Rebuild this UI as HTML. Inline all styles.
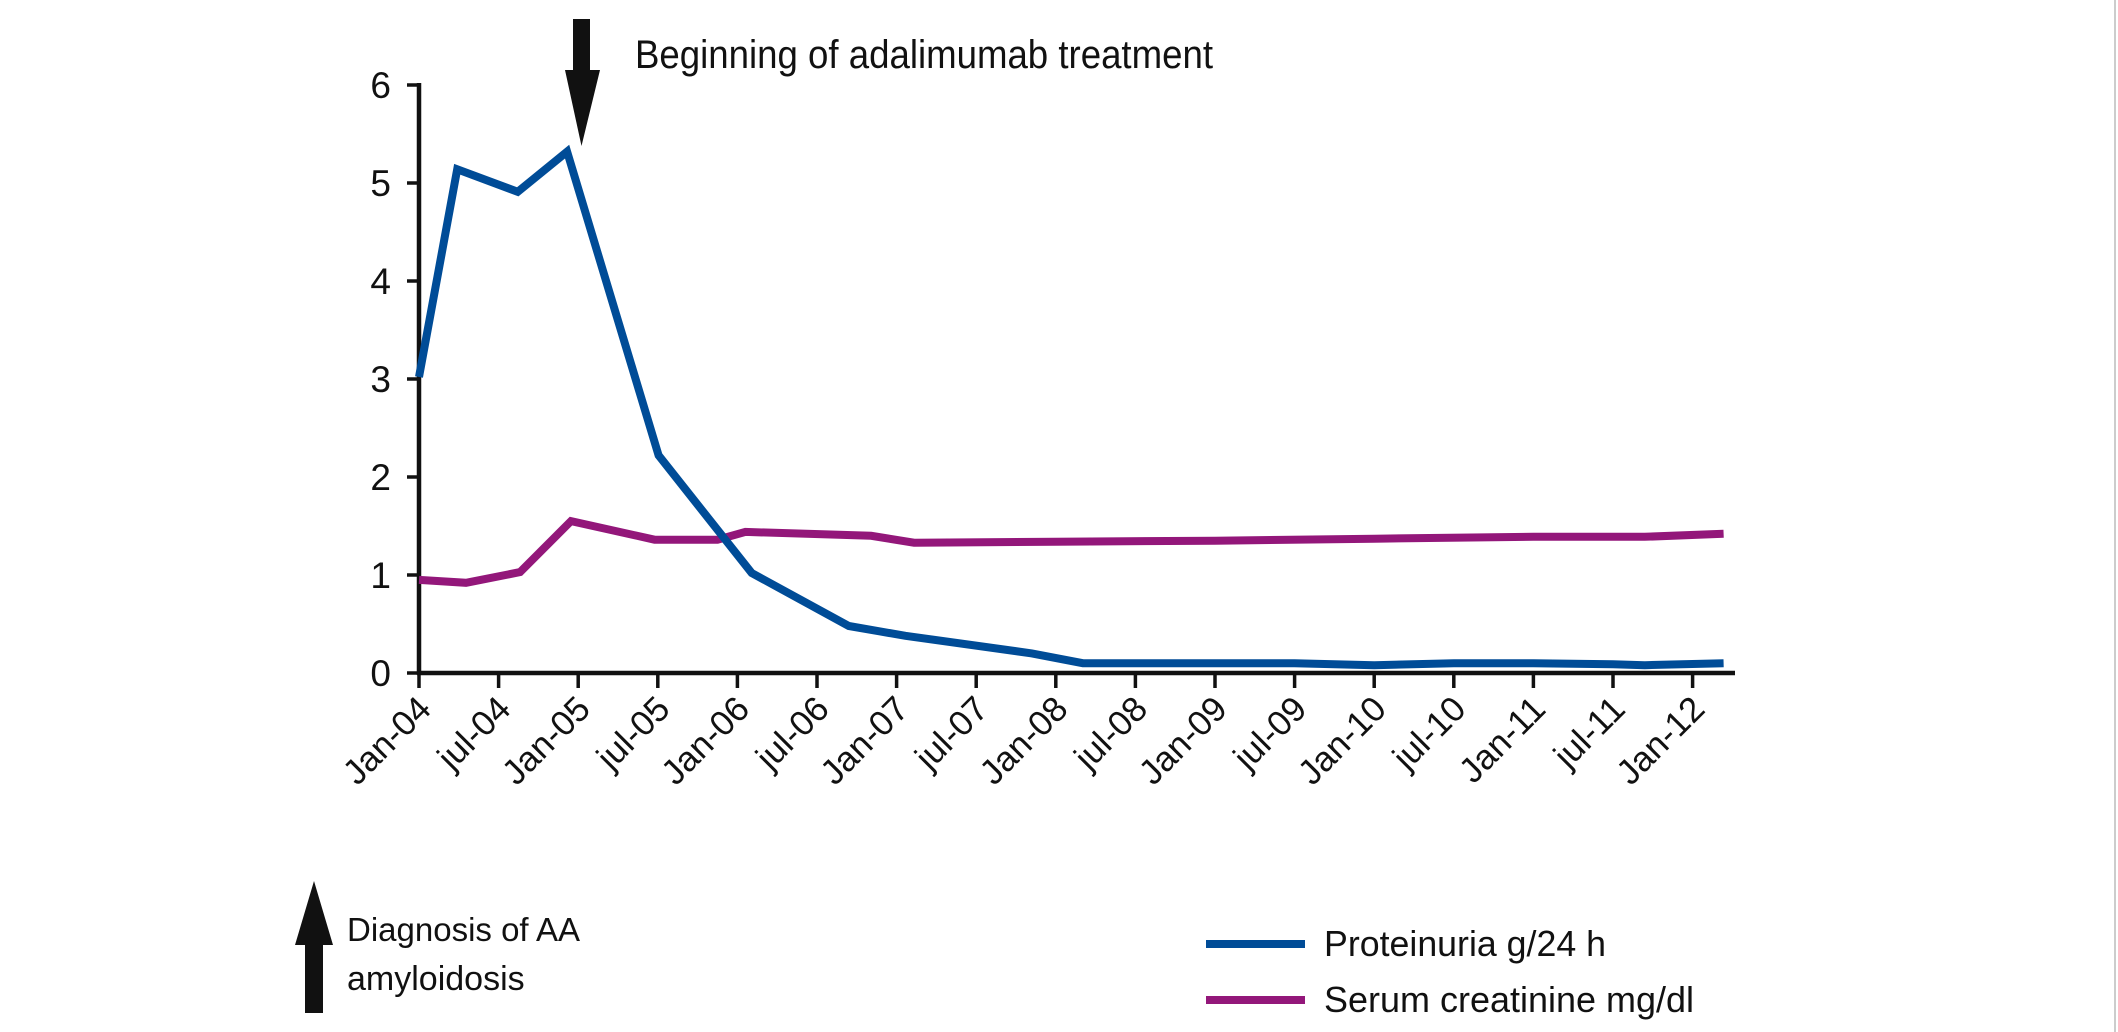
<!DOCTYPE html>
<html><head><meta charset="utf-8"><style>
html,body{margin:0;padding:0;background:#fff;}
svg{display:block;font-family:"Liberation Sans",sans-serif;}
</style></head><body>
<svg id="chart" width="2118" height="1032" viewBox="0 0 2118 1032">
<line x1="2115" y1="0" x2="2115" y2="1032" stroke="#ccc" stroke-width="2"/>
<g id="axes"></g>
<g id="series"></g>
<g>
<polygon points="573,19 590,19 590,70 600,70 581.5,146 565,70 573,70" fill="#111"/>
<text x="635" y="68" font-size="40" textLength="578" lengthAdjust="spacingAndGlyphs" fill="#111">Beginning of adalimumab treatment</text>
</g>
<g>
<polygon points="305,1013 323,1013 323,945 333,945 314,881 295,945 305,945" fill="#111"/>
<text x="347" y="941" font-size="33" fill="#111">Diagnosis of AA</text>
<text x="347" y="990" font-size="34" fill="#111">amyloidosis</text>
</g>
<g>
<g>
<line x1="1206" y1="944" x2="1305" y2="944" stroke="#004C97" stroke-width="8"/>
<text x="1324" y="956" font-size="36" fill="#111" textLength="282" lengthAdjust="spacingAndGlyphs">Proteinuria g/24 h</text>
</g>
<g>
<line x1="1206" y1="1000" x2="1305" y2="1000" stroke="#93177A" stroke-width="8"/>
<text x="1324" y="1012" font-size="36" fill="#111" textLength="370" lengthAdjust="spacingAndGlyphs">Serum creatinine mg/dl</text>
</g>
</g>
</svg>
<script>
const xTickLabels = ["Jan-04","jul-04","Jan-05","jul-05","Jan-06","jul-06","Jan-07","jul-07","Jan-08","jul-08","Jan-09","jul-09","Jan-10","jul-10","Jan-11","jul-11","Jan-12"];
const yTicks = [0,1,2,3,4,5,6];
// x positions in half-year units since Jan-04
const proteinuriaT = [0, 0.48, 1.24, 1.86, 3.01, 4.18, 5.4, 6.11, 7.7, 8.34, 10, 11, 12, 13, 14, 15, 15.4, 16.39];
const proteinuriaV = [3.02, 5.14, 4.91, 5.32, 2.22, 1.02, 0.48, 0.38, 0.2, 0.1, 0.1, 0.1, 0.08, 0.1, 0.1, 0.09, 0.08, 0.1];
const creatinineT = [0, 0.59, 1.27, 1.91, 2.96, 3.75, 4.1, 5.68, 6.22, 8, 10, 12, 14, 15.4, 16.39];
const creatinineV = [0.95, 0.92, 1.03, 1.55, 1.36, 1.36, 1.44, 1.40, 1.33, 1.34, 1.35, 1.37, 1.39, 1.39, 1.42];

const NS = "http://www.w3.org/2000/svg";
const X0 = 419, DX = 79.6, Y0 = 673, DY = 98;
const xs = t => X0 + t * DX;
const ys = v => Y0 - v * DY;
const axes = document.getElementById('axes');
const series = document.getElementById('series');
function mk(tag, attrs, parent){const e=document.createElementNS(NS,tag);for(const k in attrs)e.setAttribute(k,attrs[k]);parent.appendChild(e);return e;}

let e = mk('line',{x1:X0,y1:ys(6)-2,x2:X0,y2:Y0+2,stroke:'#111','stroke-width':4.5},axes);


e = mk('line',{x1:X0-2,y1:Y0,x2:1735,y2:Y0,stroke:'#111','stroke-width':4.5},axes);



yTicks.forEach(v=>{
  const t = mk('line',{x1:X0-12,y1:ys(v),x2:X0,y2:ys(v),stroke:'#111','stroke-width':3.5},axes);
  
  
  const l = mk('text',{x:X0-28,y:ys(v)+13,'font-size':37,'text-anchor':'end',fill:'#111'},axes);
  l.textContent = v;
  
  
});
xTickLabels.forEach((lab,i)=>{
  const x = xs(i);
  const t = mk('line',{x1:x,y1:Y0,x2:x,y2:Y0+15,stroke:'#111','stroke-width':3.5},axes);
  
  
  const l = mk('text',{x:x+14,y:Y0+38,'font-size':35,'text-anchor':'end',fill:'#111',transform:`rotate(-45 ${x+14} ${Y0+38})`},axes);
  l.textContent = lab;
  
  
});

function drawLine(T,V,color,name){
  const pts = T.map((t,i)=>xs(t).toFixed(1)+','+ys(V[i]).toFixed(1)).join(' ');
  const p = mk('polyline',{points:pts,fill:'none',stroke:color,'stroke-width':8,'stroke-linejoin':'miter'},series);
  
  
}
drawLine(creatinineT,creatinineV,'#93177A','creatinine-line');
drawLine(proteinuriaT,proteinuriaV,'#004C97','proteinuria-line');
</script>
</body></html>
